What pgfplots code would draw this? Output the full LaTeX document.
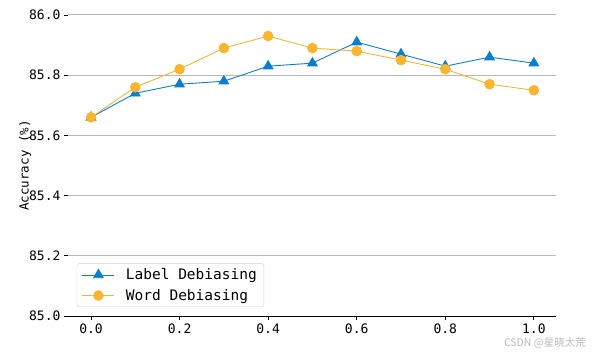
\documentclass[border=0pt]{standalone}
\usepackage{pgfplots}
\pgfplotsset{compat=1.18}
\usepackage{fontspec}
\setmainfont{DejaVu Sans Mono}
\newfontfamily\cjk{Noto Sans CJK SC}
\definecolor{cblue}{HTML}{0A7FD0}
\definecolor{corange}{HTML}{F9B52E}
\definecolor{cgrid}{HTML}{B8B8B8}
\begin{document}
\begin{tikzpicture}
\useasboundingbox (0pt,0pt) rectangle (592pt,354pt);
\begin{axis}[
  at={(68pt,38pt)}, anchor=south west,
  scale only axis, width=488pt, height=301pt,
  xmin=-0.052, xmax=1.05, ymin=85.0, ymax=86.0,
  axis lines=left,
  axis line style={-},
  y axis line style={draw=none},
  x axis line style={black, line width=1pt},
  xtick={0,0.2,0.4,0.6,0.8,1.0},
  ytick={85.0,85.2,85.4,85.6,85.8,86.0},
  tick align=outside,
  major tick length=4pt,
  tick style={black, line width=0.8pt},
  ymajorgrids,
  grid style={cgrid, line width=1pt},
  /pgf/number format/assume math mode=true,
  /pgf/number format/.cd, fixed, fixed zerofill, precision=1,
  /pgfplots/.cd,
  ticklabel style={font=\fontsize{13}{15}\selectfont},
  ylabel={Accuracy (\%)},
  ylabel style={font=\fontsize{12.5}{14}\selectfont},
  ylabel shift=-9pt,
  legend style={at={(axis description cs:0.018,0.03)}, anchor=south west,
    draw=gray!35, rounded corners=2pt, font=\fontsize{14.5}{17}\selectfont,
    inner xsep=5pt, inner ysep=3pt, row sep=4pt,
    /tikz/every odd column/.append style={column sep=9pt}},
  legend cell align=left,
  legend image code/.code={\draw[mark repeat=2,mark phase=2] plot coordinates {(0pt,0pt)(16pt,0pt)(32pt,0pt)};},
]
\addplot[cblue, line width=0.9pt, mark=triangle*, mark size=5.5pt, mark options={draw=none, fill=cblue}] coordinates {
(0.0,85.66) (0.1,85.74) (0.2,85.77) (0.3,85.78) (0.4,85.83) (0.5,85.84)
(0.6,85.91) (0.7,85.87) (0.8,85.83) (0.9,85.86) (1.0,85.84)};
\addlegendentry{Label Debiasing}
\addplot[corange, line width=0.9pt, mark=*, mark size=4.8pt, mark options={draw=none, fill=corange}] coordinates {
(0.0,85.66) (0.1,85.76) (0.2,85.82) (0.3,85.89) (0.4,85.93) (0.5,85.89)
(0.6,85.88) (0.7,85.85) (0.8,85.82) (0.9,85.77) (1.0,85.75)};
\addlegendentry{Word Debiasing}
\end{axis}
\node[anchor=east, text=gray!55, font=\cjk\fontsize{10.5}{11}\selectfont, inner sep=0pt] at (586pt,11pt) {CSDN @星晓太荒};
\end{tikzpicture}
\end{document}
